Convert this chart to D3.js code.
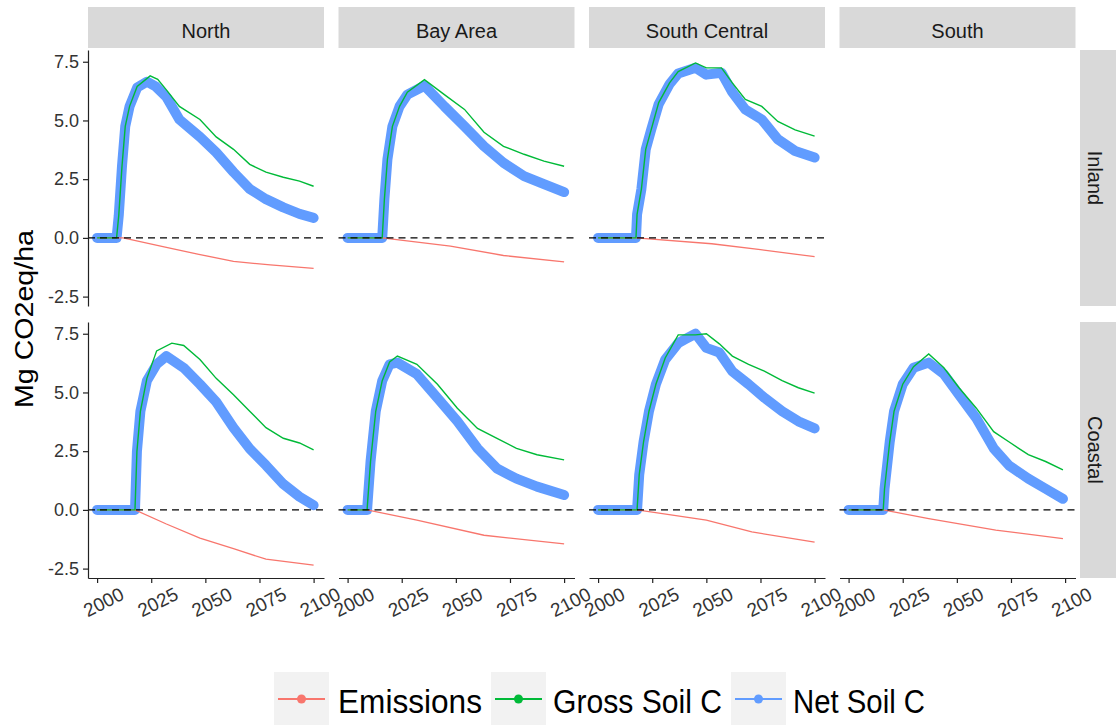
<!DOCTYPE html>
<html lang="en">
<head>
<meta charset="UTF-8">
<title>soil carbon by region</title>
<script src="https://d3js.org/d3.v7.min.js"></script>
<style>
    body {
        margin: 0;
        background: #fff;
    }
    svg {
        display: block;
        font-family: "Liberation Sans", Arial, sans-serif;
    }
    .strip rect {
        fill: #d9d9d9;
    }
    .strip text {
        fill: #1a1a1a;
    }
    .axis {
        font-family: "Liberation Sans", Arial, sans-serif;
    }
    .axis text {
        fill: #333;
        font-size: 18px;
    }
    .axis.x text {
        font-size: 19px;
    }
    .axis path, .axis line {
        stroke: #222;
        stroke-width: 1.2;
    }
    .zero {
        stroke: #000;
        stroke-width: 1.4;
        stroke-dasharray: 7 5;
    }
</style>
</head>
<body>
<div id="chart"></div>
<script>

    // data: [year, Mg CO2eq/ha]

    const regions = ['North', 'Bay Area', 'South Central', 'South']
    const zones = ['Inland', 'Coastal']
    const seriesNames = ['Emissions', 'Gross Soil C', 'Net Soil C']
    const seriesColors = ['#F8766D', '#00BA38', '#619CFF']
    const yTicks = [-2.5, 0, 2.5, 5, 7.5]
    const xTicks = [2000, 2025, 2050, 2075, 2100]

    const northInlandNet = [[2000, 0], [2009, 0], [2010, 0.95], [2011.5, 3.05], [2013, 4.75], [2015, 5.6], [2018.5, 6.4], [2023, 6.65], [2027, 6.45], [2032, 6.0], [2038, 5.04], [2047.5, 4.3], [2055, 3.64], [2063, 2.8], [2070.5, 2.08], [2078, 1.65], [2086, 1.3], [2093.5, 1.02], [2100, 0.85]]
    const northInlandGross = [[2000, 0], [2009, 0], [2010, 0.95], [2011.5, 3.05], [2013, 4.75], [2015, 5.6], [2018.5, 6.45], [2024.5, 6.9], [2028, 6.75], [2032, 6.3], [2038, 5.6], [2047.5, 5.04], [2055, 4.3], [2063, 3.77], [2070.5, 3.13], [2078, 2.8], [2086, 2.58], [2093.5, 2.42], [2100, 2.2]]
    const northInlandEmis = [[2000, 0], [2012, 0], [2032, -0.4], [2047, -0.7], [2063, -1.0], [2080, -1.15], [2100, -1.3]]

    const northCoastalNet = [[2000, 0], [2017.5, 0], [2018.4, 2.49], [2020, 4.2], [2023, 5.5], [2027.5, 6.2], [2032, 6.55], [2040, 6.05], [2047.5, 5.35], [2055, 4.6], [2063, 3.5], [2070.5, 2.6], [2078, 1.9], [2086, 1.1], [2093.5, 0.56], [2100, 0.2]]
    const northCoastalGross = [[2000, 0], [2017.5, 0], [2018.4, 2.49], [2020, 4.2], [2023, 5.6], [2027.5, 6.77], [2034.5, 7.1], [2040, 7.0], [2047.5, 6.4], [2055, 5.6], [2063, 4.9], [2070.5, 4.2], [2078, 3.5], [2086, 3.05], [2093.5, 2.85], [2100, 2.56]]
    const northCoastalEmis = [[2000, 0], [2017.5, 0], [2032, -0.6], [2047.5, -1.2], [2063, -1.65], [2078, -2.1], [2100, -2.35]]

    const bayInlandNet = [[2000, 0], [2016, 0], [2017, 1.65], [2018.4, 3.35], [2020.7, 4.75], [2024, 5.6], [2027.6, 6.1], [2035.5, 6.48], [2044.7, 5.6], [2054, 4.75], [2063, 3.9], [2072, 3.2], [2081.5, 2.63], [2090.7, 2.29], [2100, 1.95]]
    const bayInlandGross = [[2000, 0], [2016, 0], [2017, 1.65], [2018.4, 3.35], [2020.7, 4.75], [2024, 5.6], [2027.6, 6.2], [2035.5, 6.74], [2044.7, 6.1], [2054, 5.47], [2063, 4.5], [2072, 3.9], [2081.5, 3.56], [2090.7, 3.27], [2100, 3.05]]
    const bayInlandEmis = [[2000, 0], [2016, 0], [2047.5, -0.35], [2072, -0.75], [2100, -1.02]]

    const bayCoastalNet = [[2000, 0], [2009, 0], [2010.6, 2.06], [2013, 4.2], [2016, 5.5], [2019.4, 6.2], [2023, 6.27], [2032, 5.78], [2041.5, 4.76], [2050.7, 3.77], [2060, 2.62], [2069, 1.76], [2078, 1.33], [2087.5, 0.99], [2100, 0.63]]
    const bayCoastalGross = [[2000, 0], [2009, 0], [2010.6, 2.06], [2013, 4.2], [2016, 5.5], [2019.4, 6.3], [2023, 6.55], [2032, 6.2], [2041.5, 5.35], [2050.7, 4.33], [2060, 3.47], [2069, 3.04], [2078, 2.62], [2087.5, 2.35], [2100, 2.13]]
    const bayCoastalEmis = [[2000, 0], [2009, 0], [2032, -0.44], [2063, -1.08], [2100, -1.45]]

    const scInlandNet = [[2000, 0], [2017.5, 0], [2018, 1.0], [2020, 2.08], [2022, 3.77], [2024.5, 4.6], [2028, 5.7], [2033, 6.55], [2037, 7.0], [2045, 7.24], [2050, 6.95], [2057, 7.03], [2062, 6.2], [2068, 5.47], [2075.6, 5.04], [2083, 4.2], [2091, 3.7], [2100, 3.42]]
    const scInlandGross = [[2000, 0], [2017.5, 0], [2018, 1.0], [2020, 2.08], [2022, 3.77], [2024.5, 4.6], [2028, 5.76], [2033, 6.6], [2037, 7.08], [2045, 7.45], [2050, 7.24], [2057, 7.24], [2062, 6.6], [2068, 5.9], [2075.6, 5.6], [2083, 4.96], [2091, 4.6], [2100, 4.33]]
    const scInlandEmis = [[2000, 0], [2017.5, 0], [2052.5, -0.25], [2075, -0.5], [2100, -0.8]]

    const scCoastalNet = [[2000, 0], [2018, 0], [2019, 1.5], [2021, 2.9], [2023.5, 4.2], [2026.7, 5.35], [2031, 6.4], [2037, 7.1], [2040.5, 7.28], [2045, 7.5], [2050, 6.9], [2056, 6.7], [2062, 5.9], [2069.5, 5.35], [2077, 4.76], [2085, 4.2], [2092.5, 3.77], [2100, 3.47]]
    const scCoastalGross = [[2000, 0], [2018, 0], [2019, 1.5], [2021, 2.9], [2023.5, 4.2], [2026.7, 5.35], [2031, 6.47], [2037, 7.45], [2045, 7.45], [2050, 7.5], [2056, 7.07], [2062, 6.55], [2069.5, 6.2], [2077, 5.9], [2085, 5.5], [2092.5, 5.2], [2100, 4.97]]
    const scCoastalEmis = [[2000, 0], [2018, 0], [2050, -0.44], [2071, -0.94], [2100, -1.37]]

    const southCoastalNet = [[2000, 0], [2016, 0], [2016.6, 0.9], [2019, 2.9], [2021, 4.2], [2025, 5.35], [2030, 6.05], [2037, 6.27], [2044, 5.78], [2051, 4.9], [2059, 3.9], [2067, 2.62], [2074, 1.9], [2083, 1.33], [2091, 0.9], [2099, 0.47]]
    const southCoastalGross = [[2000, 0], [2016, 0], [2016.6, 0.9], [2019, 2.9], [2021, 4.2], [2025, 5.35], [2030, 6.1], [2037, 6.64], [2044, 6.05], [2051, 5.2], [2059, 4.33], [2067, 3.33], [2074, 2.9], [2083, 2.35], [2091, 2.06], [2099, 1.7]]
    const southCoastalEmis = [[2000, 0], [2016, 0], [2037, -0.37], [2068, -0.86], [2099, -1.22]]

    // [emissions, gross, net] per facet; South Inland has no data
    const panels = [
        { region: 'North', zone: 'Inland', series: [northInlandEmis, northInlandGross, northInlandNet] },
        { region: 'Bay Area', zone: 'Inland', series: [bayInlandEmis, bayInlandGross, bayInlandNet] },
        { region: 'South Central', zone: 'Inland', series: [scInlandEmis, scInlandGross, scInlandNet] },
        { region: 'South', zone: 'Inland', series: null },
        { region: 'North', zone: 'Coastal', series: [northCoastalEmis, northCoastalGross, northCoastalNet] },
        { region: 'Bay Area', zone: 'Coastal', series: [bayCoastalEmis, bayCoastalGross, bayCoastalNet] },
        { region: 'South Central', zone: 'Coastal', series: [scCoastalEmis, scCoastalGross, scCoastalNet] },
        { region: 'South', zone: 'Coastal', series: [southCoastalEmis, southCoastalGross, southCoastalNet] },
    ]

    // layout

    const WIDTH = 1116
    const HEIGHT = 726
    const LEFT = 88
    const TOP = 50
    const PANEL_W = 236
    const PANEL_H = 256
    const GAP_X = 14.5
    const GAP_Y = 16

    const svg = d3.select('#chart')
        .append('svg')
        .attr('width', WIDTH)
        .attr('height', HEIGHT)

    const x = d3.scaleLinear().domain([1995.8, 2104.8]).range([0, PANEL_W])
    const y = d3.scaleLinear().domain([-2.9, 8]).range([PANEL_H, 0])
    const line = d3.line().x(d => x(d[0])).y(d => y(d[1]))

    // STRIPS

    regions.forEach((r, i) => {
        const g = svg.append('g').attr('class', 'strip')
            .attr('transform', `translate(${LEFT + i * (PANEL_W + GAP_X)},7)`)
        g.append('rect').attr('width', PANEL_W).attr('height', 41)
        g.append('text')
            .attr('x', PANEL_W / 2).attr('y', 31)
            .attr('text-anchor', 'middle')
            .attr('font-size', 20)
            .text(r)
    })

    zones.forEach((z, j) => {
        const g = svg.append('g').attr('class', 'strip')
            .attr('transform', `translate(1080,${TOP + j * (PANEL_H + GAP_Y)})`)
        g.append('rect').attr('width', 40).attr('height', PANEL_H)
        g.append('text')
            .attr('transform', `translate(8,${PANEL_H / 2}) rotate(90)`)
            .attr('text-anchor', 'middle')
            .attr('font-size', 20)
            .text(z)
    })

    // PANELS

    panels.forEach(p => {
        const col = regions.indexOf(p.region)
        const row = zones.indexOf(p.zone)
        const g = svg.append('g')
            .attr('transform', `translate(${LEFT + col * (PANEL_W + GAP_X)},${TOP + row * (PANEL_H + GAP_Y)})`)

        if (p.series) {
            const [emis, gross, net] = p.series
            // net soil C is a dense run of points in the original -> fat round line
            g.append('path')
                .attr('d', line(net))
                .attr('fill', 'none')
                .attr('stroke', seriesColors[2])
                .attr('stroke-width', 10)
                .attr('stroke-linecap', 'round')
                .attr('stroke-linejoin', 'round')
            g.append('path')
                .attr('d', line(emis))
                .attr('fill', 'none')
                .attr('stroke', seriesColors[0])
                .attr('stroke-width', 1.3)
            g.append('path')
                .attr('d', line(gross))
                .attr('fill', 'none')
                .attr('stroke', seriesColors[1])
                .attr('stroke-width', 1.4)
            g.append('line').attr('class', 'zero')
                .attr('x1', 0).attr('x2', PANEL_W)
                .attr('y1', y(0)).attr('y2', y(0))
        }

        if (col === 0) {
            g.append('g').attr('class', 'axis y')
                .call(d3.axisLeft(y)
                    .tickValues(yTicks)
                    .tickFormat(d => d.toFixed(1))
                    .tickSize(5)
                    .tickSizeOuter(0)
                    .tickPadding(4))
        }

        if (row === 1) {
            const ax = g.append('g').attr('class', 'axis x')
                .attr('transform', `translate(0,${PANEL_H})`)
                .call(d3.axisBottom(x)
                    .tickValues(xTicks)
                    .tickFormat(d => d)
                    .tickSize(5)
                    .tickSizeOuter(0))
            ax.selectAll('text')
                .attr('y', 0)
                .attr('dy', '0.35em')
                .attr('text-anchor', 'middle')
                .attr('transform', 'translate(6,24) rotate(-27)')
        }
    })

    // Y TITLE

    svg.append('text')
        .attr('transform', 'translate(33,319) rotate(-90)')
        .attr('text-anchor', 'middle')
        .attr('font-size', 25)
        .attr('fill', '#000')
        .attr('textLength', 178)
        .attr('lengthAdjust', 'spacingAndGlyphs')
        .text('Mg CO2eq/ha')

    // LEGEND

    const keyX = [274, 491, 731]
    const labelX = [338, 553, 793]
    const labelLen = [144, 169, 132]

    const legend = svg.append('g').attr('class', 'legend')
    seriesNames.forEach((name, i) => {
        legend.append('rect')
            .attr('x', keyX[i]).attr('y', 672)
            .attr('width', 55).attr('height', 53)
            .attr('fill', '#f2f2f2')
        legend.append('line')
            .attr('x1', keyX[i] + 4).attr('x2', keyX[i] + 51)
            .attr('y1', 699).attr('y2', 699)
            .attr('stroke', seriesColors[i])
            .attr('stroke-width', 2)
        legend.append('circle')
            .attr('cx', keyX[i] + 27.5).attr('cy', 699)
            .attr('r', 4.5)
            .attr('fill', seriesColors[i])
        legend.append('text')
            .attr('x', labelX[i]).attr('y', 713)
            .attr('font-size', 34)
            .attr('fill', '#000')
            .attr('textLength', labelLen[i])
            .attr('lengthAdjust', 'spacingAndGlyphs')
            .text(name)
    })
</script>
</body>
</html>
